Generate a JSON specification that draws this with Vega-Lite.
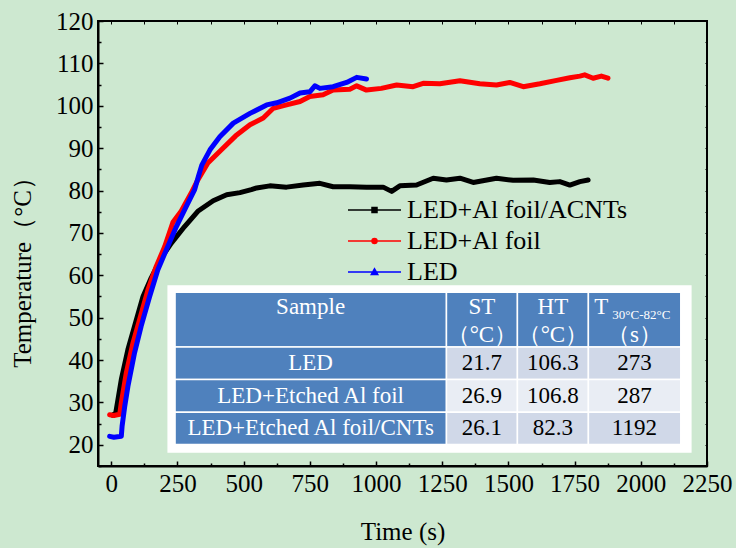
{
  "$schema": "https://vega.github.io/schema/vega-lite/v6.json",
  "width": 609,
  "height": 445,
  "autosize": {"type": "none"},
  "padding": {"left": 98, "top": 21, "right": 29, "bottom": 82},
  "background": "#cde8d0",
  "config": {
    "view": {"stroke": "black", "strokeWidth": 2},
    "font": "Liberation Serif",
    "legend": {"labelFont": "Liberation Serif", "labelFontSize": 26, "labelColor": "black", "labelLimit": 0},
    "axis": {"grid": false, "labelFont": "Liberation Serif", "titleFont": "Liberation Serif", "labelColor": "black", "titleColor": "black", "tickColor": "black", "domainColor": "black", "titleFontWeight": "normal"}
  },
  "datasets": {
    "series": [
      {"sample": "LED+Al foil/ACNTs", "t": 5, "T": 27.0},
      {"sample": "LED+Al foil/ACNTs", "t": 17, "T": 27.5},
      {"sample": "LED+Al foil/ACNTs", "t": 38, "T": 35.4},
      {"sample": "LED+Al foil/ACNTs", "t": 63, "T": 42.5},
      {"sample": "LED+Al foil/ACNTs", "t": 88, "T": 48.0},
      {"sample": "LED+Al foil/ACNTs", "t": 120, "T": 55.0},
      {"sample": "LED+Al foil/ACNTs", "t": 151, "T": 59.4},
      {"sample": "LED+Al foil/ACNTs", "t": 189, "T": 64.1},
      {"sample": "LED+Al foil/ACNTs", "t": 227, "T": 67.6},
      {"sample": "LED+Al foil/ACNTs", "t": 277, "T": 71.5},
      {"sample": "LED+Al foil/ACNTs", "t": 327, "T": 75.1},
      {"sample": "LED+Al foil/ACNTs", "t": 385, "T": 77.6},
      {"sample": "LED+Al foil/ACNTs", "t": 436, "T": 79.0},
      {"sample": "LED+Al foil/ACNTs", "t": 486, "T": 79.5},
      {"sample": "LED+Al foil/ACNTs", "t": 529, "T": 80.2},
      {"sample": "LED+Al foil/ACNTs", "t": 549, "T": 80.6},
      {"sample": "LED+Al foil/ACNTs", "t": 599, "T": 81.1},
      {"sample": "LED+Al foil/ACNTs", "t": 662, "T": 80.8},
      {"sample": "LED+Al foil/ACNTs", "t": 725, "T": 81.3},
      {"sample": "LED+Al foil/ACNTs", "t": 788, "T": 81.7},
      {"sample": "LED+Al foil/ACNTs", "t": 838, "T": 80.9},
      {"sample": "LED+Al foil/ACNTs", "t": 901, "T": 80.9},
      {"sample": "LED+Al foil/ACNTs", "t": 964, "T": 80.8},
      {"sample": "LED+Al foil/ACNTs", "t": 1027, "T": 80.8},
      {"sample": "LED+Al foil/ACNTs", "t": 1059, "T": 79.8},
      {"sample": "LED+Al foil/ACNTs", "t": 1090, "T": 81.1},
      {"sample": "LED+Al foil/ACNTs", "t": 1153, "T": 81.3},
      {"sample": "LED+Al foil/ACNTs", "t": 1216, "T": 82.9},
      {"sample": "LED+Al foil/ACNTs", "t": 1266, "T": 82.5},
      {"sample": "LED+Al foil/ACNTs", "t": 1317, "T": 82.9},
      {"sample": "LED+Al foil/ACNTs", "t": 1367, "T": 81.9},
      {"sample": "LED+Al foil/ACNTs", "t": 1455, "T": 82.9},
      {"sample": "LED+Al foil/ACNTs", "t": 1518, "T": 82.4},
      {"sample": "LED+Al foil/ACNTs", "t": 1594, "T": 82.5},
      {"sample": "LED+Al foil/ACNTs", "t": 1656, "T": 81.9},
      {"sample": "LED+Al foil/ACNTs", "t": 1694, "T": 82.1},
      {"sample": "LED+Al foil/ACNTs", "t": 1732, "T": 81.3},
      {"sample": "LED+Al foil/ACNTs", "t": 1770, "T": 82.1},
      {"sample": "LED+Al foil/ACNTs", "t": 1801, "T": 82.5},
      {"sample": "LED+Al foil", "t": -6, "T": 27.1},
      {"sample": "LED+Al foil", "t": 10, "T": 26.9},
      {"sample": "LED+Al foil", "t": 32, "T": 27.2},
      {"sample": "LED+Al foil", "t": 38, "T": 29.9},
      {"sample": "LED+Al foil", "t": 57, "T": 37.0},
      {"sample": "LED+Al foil", "t": 82, "T": 44.0},
      {"sample": "LED+Al foil", "t": 107, "T": 49.5},
      {"sample": "LED+Al foil", "t": 139, "T": 56.6},
      {"sample": "LED+Al foil", "t": 170, "T": 62.1},
      {"sample": "LED+Al foil", "t": 202, "T": 66.8},
      {"sample": "LED+Al foil", "t": 233, "T": 72.5},
      {"sample": "LED+Al foil", "t": 264, "T": 75.1},
      {"sample": "LED+Al foil", "t": 302, "T": 79.4},
      {"sample": "LED+Al foil", "t": 327, "T": 82.5},
      {"sample": "LED+Al foil", "t": 365, "T": 86.5},
      {"sample": "LED+Al foil", "t": 419, "T": 89.8},
      {"sample": "LED+Al foil", "t": 470, "T": 92.9},
      {"sample": "LED+Al foil", "t": 524, "T": 95.5},
      {"sample": "LED+Al foil", "t": 574, "T": 97.1},
      {"sample": "LED+Al foil", "t": 612, "T": 99.4},
      {"sample": "LED+Al foil", "t": 662, "T": 100.2},
      {"sample": "LED+Al foil", "t": 713, "T": 101.0},
      {"sample": "LED+Al foil", "t": 750, "T": 102.2},
      {"sample": "LED+Al foil", "t": 800, "T": 102.6},
      {"sample": "LED+Al foil", "t": 838, "T": 103.7},
      {"sample": "LED+Al foil", "t": 901, "T": 103.9},
      {"sample": "LED+Al foil", "t": 927, "T": 104.7},
      {"sample": "LED+Al foil", "t": 964, "T": 103.7},
      {"sample": "LED+Al foil", "t": 1020, "T": 104.1},
      {"sample": "LED+Al foil", "t": 1078, "T": 104.9},
      {"sample": "LED+Al foil", "t": 1140, "T": 104.5},
      {"sample": "LED+Al foil", "t": 1178, "T": 105.3},
      {"sample": "LED+Al foil", "t": 1241, "T": 105.2},
      {"sample": "LED+Al foil", "t": 1317, "T": 105.9},
      {"sample": "LED+Al foil", "t": 1392, "T": 105.2},
      {"sample": "LED+Al foil", "t": 1455, "T": 104.9},
      {"sample": "LED+Al foil", "t": 1505, "T": 105.5},
      {"sample": "LED+Al foil", "t": 1556, "T": 104.5},
      {"sample": "LED+Al foil", "t": 1619, "T": 105.2},
      {"sample": "LED+Al foil", "t": 1682, "T": 106.0},
      {"sample": "LED+Al foil", "t": 1732, "T": 106.6},
      {"sample": "LED+Al foil", "t": 1770, "T": 107.0},
      {"sample": "LED+Al foil", "t": 1788, "T": 107.3},
      {"sample": "LED+Al foil", "t": 1820, "T": 106.5},
      {"sample": "LED+Al foil", "t": 1851, "T": 107.0},
      {"sample": "LED+Al foil", "t": 1876, "T": 106.5},
      {"sample": "LED", "t": -6, "T": 22.0},
      {"sample": "LED", "t": 10, "T": 21.8},
      {"sample": "LED", "t": 38, "T": 22.0},
      {"sample": "LED", "t": 41, "T": 24.4},
      {"sample": "LED", "t": 51, "T": 29.1},
      {"sample": "LED", "t": 63, "T": 33.8},
      {"sample": "LED", "t": 88, "T": 41.7},
      {"sample": "LED", "t": 113, "T": 48.0},
      {"sample": "LED", "t": 145, "T": 55.0},
      {"sample": "LED", "t": 176, "T": 61.3},
      {"sample": "LED", "t": 208, "T": 66.0},
      {"sample": "LED", "t": 246, "T": 71.5},
      {"sample": "LED", "t": 283, "T": 76.2},
      {"sample": "LED", "t": 315, "T": 80.2},
      {"sample": "LED", "t": 330, "T": 83.5},
      {"sample": "LED", "t": 342, "T": 86.0},
      {"sample": "LED", "t": 373, "T": 89.6},
      {"sample": "LED", "t": 410, "T": 92.7},
      {"sample": "LED", "t": 461, "T": 95.9},
      {"sample": "LED", "t": 524, "T": 98.2},
      {"sample": "LED", "t": 587, "T": 100.2},
      {"sample": "LED", "t": 625, "T": 100.7},
      {"sample": "LED", "t": 675, "T": 101.8},
      {"sample": "LED", "t": 713, "T": 103.0},
      {"sample": "LED", "t": 750, "T": 103.3},
      {"sample": "LED", "t": 769, "T": 104.7},
      {"sample": "LED", "t": 788, "T": 104.1},
      {"sample": "LED", "t": 838, "T": 104.5},
      {"sample": "LED", "t": 889, "T": 105.5},
      {"sample": "LED", "t": 927, "T": 106.7},
      {"sample": "LED", "t": 964, "T": 106.3}
    ],
    "cells": [
      {"kind": "frame", "x1": 215, "x2": 2189, "y1": 18.3, "y2": 57.5},
      {"kind": "head", "x1": 241, "x2": 1266, "y1": 43.1, "y2": 56.0},
      {"kind": "head", "x1": 1266, "x2": 1534, "y1": 43.1, "y2": 56.0},
      {"kind": "head", "x1": 1534, "x2": 1802, "y1": 43.1, "y2": 56.0},
      {"kind": "head", "x1": 1802, "x2": 2151, "y1": 43.1, "y2": 56.0},
      {"kind": "head", "x1": 241, "x2": 1266, "y1": 35.4, "y2": 43.1},
      {"kind": "odd", "x1": 1266, "x2": 1534, "y1": 35.4, "y2": 43.1},
      {"kind": "odd", "x1": 1534, "x2": 1802, "y1": 35.4, "y2": 43.1},
      {"kind": "odd", "x1": 1802, "x2": 2151, "y1": 35.4, "y2": 43.1},
      {"kind": "head", "x1": 241, "x2": 1266, "y1": 27.7, "y2": 35.4},
      {"kind": "even", "x1": 1266, "x2": 1534, "y1": 27.7, "y2": 35.4},
      {"kind": "even", "x1": 1534, "x2": 1802, "y1": 27.7, "y2": 35.4},
      {"kind": "even", "x1": 1802, "x2": 2151, "y1": 27.7, "y2": 35.4},
      {"kind": "head", "x1": 241, "x2": 1266, "y1": 20.1, "y2": 27.7},
      {"kind": "odd", "x1": 1266, "x2": 1534, "y1": 20.1, "y2": 27.7},
      {"kind": "odd", "x1": 1534, "x2": 1802, "y1": 20.1, "y2": 27.7},
      {"kind": "odd", "x1": 1802, "x2": 2151, "y1": 20.1, "y2": 27.7}
    ],
    "texts": [
      {"kind": "w", "x": 753, "y": 52.5, "label": "Sample"},
      {"kind": "w", "x": 1400, "y": 52.5, "label": "ST"},
      {"kind": "w", "x": 1400, "y": 46.0, "label": "（°C）"},
      {"kind": "w", "x": 1668, "y": 52.5, "label": "HT"},
      {"kind": "w", "x": 1668, "y": 46.0, "label": "（°C）"},
      {"kind": "w", "x": 1851, "y": 52.5, "label": "T"},
      {"kind": "w", "x": 1976, "y": 46.0, "label": "（s）"},
      {"kind": "w", "x": 753, "y": 39.3, "label": "LED"},
      {"kind": "w", "x": 753, "y": 31.6, "label": "LED+Etched Al foil"},
      {"kind": "w", "x": 753, "y": 24.0, "label": "LED+Etched Al foil/CNTs"},
      {"kind": "b", "x": 1400, "y": 39.3, "label": "21.7"},
      {"kind": "b", "x": 1668, "y": 39.3, "label": "106.3"},
      {"kind": "b", "x": 1976, "y": 39.3, "label": "273"},
      {"kind": "b", "x": 1400, "y": 31.6, "label": "26.9"},
      {"kind": "b", "x": 1668, "y": 31.6, "label": "106.8"},
      {"kind": "b", "x": 1976, "y": 31.6, "label": "287"},
      {"kind": "b", "x": 1400, "y": 24.0, "label": "26.1"},
      {"kind": "b", "x": 1668, "y": 24.0, "label": "82.3"},
      {"kind": "b", "x": 1976, "y": 24.0, "label": "1192"},
      {"kind": "s", "x": 2002, "y": 50.6, "label": "30°C-82°C"}
    ]
  },
  "layer": [
    {
      "data": {"name": "series"},
      "mark": {"type": "line", "strokeWidth": 5, "strokeCap": "round", "strokeJoin": "round"},
      "encoding": {
        "x": {"field": "t", "type": "quantitative", "scale": {"domain": [-50, 2250], "nice": false, "zero": false},
          "axis": {"orient": "bottom", "values": [0, 250, 500, 750, 1000, 1250, 1500, 1750, 2000, 2250], "format": "d", "labelFontSize": 25, "labelPadding": 10, "tickSize": -5, "tickWidth": 1.5, "domainWidth": 2, "labelFlush": false, "labelOverlap": false, "title": "Time (s)", "titleFontSize": 25, "titlePadding": 23}},
        "y": {"field": "T", "type": "quantitative", "scale": {"domain": [15, 120], "nice": false, "zero": false},
          "axis": {"orient": "left", "values": [20, 30, 40, 50, 60, 70, 80, 90, 100, 110, 120], "format": "d", "labelFontSize": 25, "labelPadding": 10, "tickSize": -5, "tickWidth": 1.5, "domainWidth": 2, "labelFlush": false, "labelOverlap": false, "title": "Temperature（°C）", "titleFontSize": 25, "titlePadding": 20, "titleY": 245}},
        "color": {"field": "sample", "type": "nominal",
          "scale": {"domain": ["LED+Al foil/ACNTs", "LED+Al foil", "LED"], "range": ["#000000", "#ff0000", "#0000ff"]},
          "legend": {"orient": "none", "legendX": 263.5, "legendY": 176, "title": null, "padding": 0, "labelFont": "Liberation Serif", "labelFontSize": 26, "labelColor": "black", "labelLimit": 0, "symbolSize": 100, "labelOffset": 19.5, "rowPadding": 5, "symbolStrokeWidth": 1.5,
            "encode": {"symbols": {"update": {
              "shape": {"signal": "datum.value === 'LED' ? 'M-5.3,0H5.3M-0.65,0.5L0,-0.65L0.65,0.5Z' : datum.value === 'LED+Al foil' ? 'M-5.3,0H5.3M-0.5,0A0.5,0.5 0 1,0 0.5,0A0.5,0.5 0 1,0 -0.5,0Z' : 'M-5.3,0H5.3M-0.5,-0.5H0.5V0.5H-0.5Z'"},
              "fill": {"scale": "color", "field": "value"}
            }}, "labels": {"update": {"font": {"value": "Liberation Serif"}}}}}
        }
      }
    },
    {
      "data": {"name": "cells"},
      "mark": {"type": "rect", "stroke": "white", "strokeWidth": 1.5},
      "encoding": {
        "x": {"field": "x1", "type": "quantitative", "scale": {"domain": [-50, 2250], "nice": false, "zero": false},
          "axis": {"orient": "bottom", "values": [125, 375, 625, 875, 1125, 1375, 1625, 1875, 2125], "labels": false, "domain": false, "tickSize": -3, "tickWidth": 1.5, "title": null}},
        "x2": {"field": "x2"},
        "y": {"field": "y1", "type": "quantitative", "scale": {"domain": [15, 120], "nice": false, "zero": false},
          "axis": {"orient": "left", "values": [15, 25, 35, 45, 55, 65, 75, 85, 95, 105, 115], "labels": false, "domain": false, "tickSize": -3, "tickWidth": 1.5, "title": null}},
        "y2": {"field": "y2"},
        "fill": {"field": "kind", "type": "nominal", "scale": {"domain": ["frame", "head", "odd", "even"], "range": ["#ffffff", "#4f81bd", "#d0d8e8", "#e9edf4"]}, "legend": null}
      }
    },
    {
      "data": {"name": "texts"},
      "transform": [{"filter": "datum.kind === 'w'"}],
      "mark": {"type": "text", "font": "Liberation Serif", "fontSize": 23, "color": "white"},
      "encoding": {
        "x": {"field": "x", "type": "quantitative", "scale": {"domain": [-50, 2250], "nice": false, "zero": false},
          "axis": {"orient": "top", "values": [0, 125, 250, 375, 500, 625, 750, 875, 1000, 1125, 1250, 1375, 1500, 1625, 1750, 1875, 2000, 2125], "labels": false, "domain": false, "tickSize": -3, "tickWidth": 1, "title": null}},
        "y": {"field": "y", "type": "quantitative", "scale": {"domain": [15, 120], "nice": false, "zero": false},
          "axis": {"orient": "right", "values": [20, 25, 30, 35, 40, 45, 50, 55, 60, 65, 70, 75, 80, 85, 90, 95, 100, 105, 110, 115], "labels": false, "domain": false, "tickSize": -2, "tickWidth": 1, "title": null}},
        "text": {"field": "label"}
      }
    },
    {
      "data": {"name": "texts"},
      "transform": [{"filter": "datum.kind === 'b'"}],
      "mark": {"type": "text", "font": "Liberation Serif", "fontSize": 23, "color": "black"},
      "encoding": {
        "x": {"field": "x", "type": "quantitative", "scale": {"domain": [-50, 2250], "nice": false, "zero": false}, "axis": null},
        "y": {"field": "y", "type": "quantitative", "scale": {"domain": [15, 120], "nice": false, "zero": false}, "axis": null},
        "text": {"field": "label"}
      }
    },
    {
      "data": {"name": "texts"},
      "transform": [{"filter": "datum.kind === 's'"}],
      "mark": {"type": "text", "font": "Liberation Serif", "fontSize": 13, "color": "white"},
      "encoding": {
        "x": {"field": "x", "type": "quantitative", "scale": {"domain": [-50, 2250], "nice": false, "zero": false}, "axis": null},
        "y": {"field": "y", "type": "quantitative", "scale": {"domain": [15, 120], "nice": false, "zero": false}, "axis": null},
        "text": {"field": "label"}
      }
    }
  ],
  "resolve": {"axis": {"x": "independent", "y": "independent"}}
}
